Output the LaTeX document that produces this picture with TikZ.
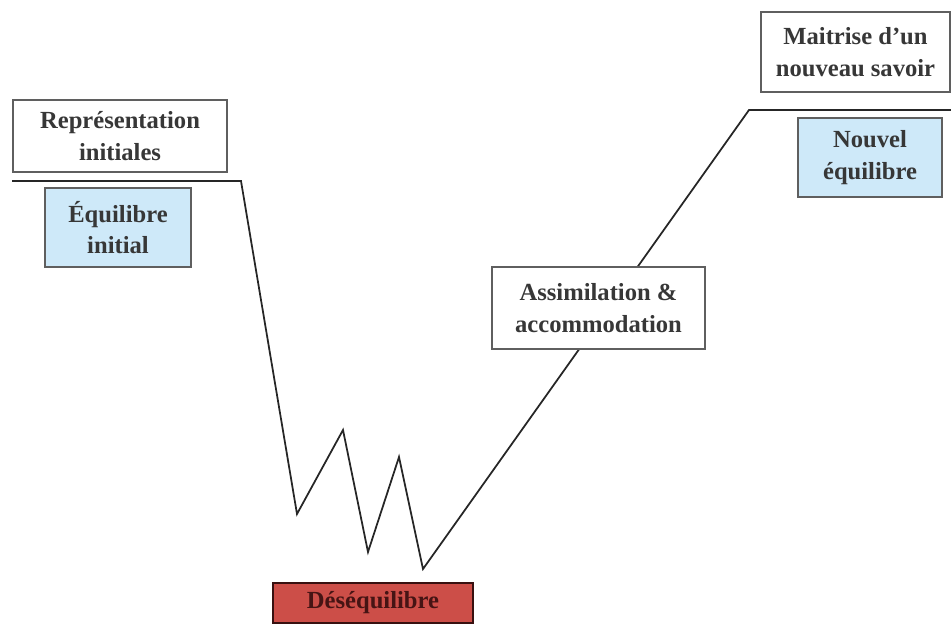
\documentclass[tikz,border=0pt]{standalone}
\usepackage{fontspec}
\setmainfont{Liberation Serif}
\usepackage{tikz}
\usepackage{color}

\definecolor{boxgray}{RGB}{95,95,95}
\definecolor{textgray}{RGB}{55,55,55}
\definecolor{eqblue}{RGB}{206,233,249}
\definecolor{deseqred}{RGB}{204,78,72}
\definecolor{deseqtext}{RGB}{70,20,20}

\tikzset{
	stagebox/.style={draw=boxgray,line width=0.9pt,fill=white,align=center,inner sep=0pt,text=textgray,font=\fontsize{14}{18}\selectfont\bfseries},
	eqbox/.style={stagebox,fill=eqblue},
	redbox/.style={stagebox,draw=deseqtext!80!black,fill=deseqred,text=deseqtext},
	path/.style={draw=black!85,line width=1pt,line join=miter}
}

\begin{document}
\begin{tikzpicture}[x=0.02cm,y=-0.02cm]
	\useasboundingbox (0,0) rectangle (951,625);
	\coordinate (p0) at (12,181);
	\coordinate (p1) at (241,181);
	\coordinate (p2) at (297,514);
	\coordinate (p3) at (343,430);
	\coordinate (p4) at (368,552);
	\coordinate (p5) at (399,457);
	\coordinate (p6) at (423,569);
	\coordinate (p7) at (749,110);
	\coordinate (p8) at (951,110);

	\draw[path] (p0) -- (p1) -- (p2) -- (p3) -- (p4) -- (p5) -- (p6) -- (p7) -- (p8);

	\node[stagebox,minimum width=4.28cm,minimum height=1.44cm] (Rep) at (120,136){Représentation\\initiales};
	\node[eqbox,minimum width=2.92cm,minimum height=1.58cm] (EqInit) at (118,227.5){Équilibre\\initial};
	\node[stagebox,minimum width=4.26cm,minimum height=1.64cm] (Assim) at (598.5,308){Assimilation \&\\accommodation};
	\node[stagebox,minimum width=3.78cm,minimum height=1.6cm] (Maitrise) at (855.5,52){Maitrise d'un\\nouveau savoir};
	\node[eqbox,minimum width=2.88cm,minimum height=1.58cm] (EqNew) at (870,157.5){Nouvel\\équilibre};
	\node[redbox,minimum width=4cm,minimum height=0.8cm] (Deseq) at (373,603){Déséquilibre};
\end{tikzpicture}
\end{document}
